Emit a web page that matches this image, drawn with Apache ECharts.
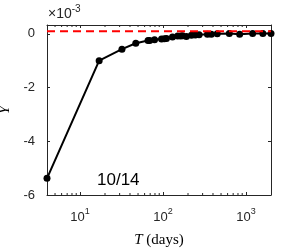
<!DOCTYPE html>
<html><head><meta charset="utf-8">
<script src="https://cdn.jsdelivr.net/npm/echarts@6/dist/echarts.min.js"></script>
<style>html,body{margin:0;padding:0;background:#fff}#c{width:300px;height:250px}</style>
</head><body><div id="c"></div>
<script>
// T in days, Y in units of 1e-3
const T_days = [4, 17, 32, 47, 66, 69, 79, 96, 104, 110, 130, 150, 163, 172, 191, 220, 245, 272, 343, 382, 450, 629, 838, 1202, 1595, 2000];
const Y_e3   = [-5.38, -1.00, -0.57, -0.35, -0.25, -0.25, -0.22, -0.19, -0.18, -0.17, -0.12, -0.075, -0.08, -0.07, -0.10, -0.05, -0.04, -0.03, -0.01, -0.01, 0.0, 0.01, -0.01, 0.01, 0.01, 0.01];
const refLevel = 0.1;
const xRange = [4, 2000];
const yRange = [-6, 0.33];
const yTicks = [-6, -4, -2, 0];
const xMinor = [5,6,7,8,9,20,30,40,50,60,70,80,90,200,300,400,500,600,700,800,900];
const annotation = '10/14';

const ink = '#262626';
const chart = echarts.init(document.getElementById('c'), null, {renderer:'canvas'});
const lineData = T_days.map((t,i)=>[t, Y_e3[i]]);
const axisBase = {
  type:'log', logBase:10, min:xRange[0], max:xRange[1],
  axisLine:{show:true, onZero:false, lineStyle:{color:ink, width:1}},
  axisTick:{show:true, inside:true, length:3, lineStyle:{color:ink}},
  splitLine:{show:false}, minorTick:{show:false}
};
chart.setOption({
  animation:false,
  grid:{left:47, right:29, top:25, bottom:55, containLabel:false, outerBoundsMode:'none'},
  xAxis:[
    Object.assign({}, axisBase, {
      position:'bottom',
      name:'{i|T} (days)', nameLocation:'middle', nameGap:38,
      nameTextStyle:{color:'#000', fontFamily:'Liberation Serif', fontSize:15,
        rich:{i:{fontStyle:'italic', fontFamily:'Liberation Serif', fontSize:15, color:'#000'}}},
      axisLabel:{show:true, margin:12, color:ink, showMinLabel:false, showMaxLabel:false,
        formatter:function(v){
          const e = Math.log10(v);
          if (Math.abs(e-Math.round(e))>1e-6) return '';
          return '{b|10}{s|'+Math.round(e)+'}';
        },
        rich:{b:{fontFamily:'Liberation Sans', fontSize:13, color:ink},
              s:{fontFamily:'Liberation Sans', fontSize:9, color:ink, padding:[0,0,12,0]}}}
    }),
    Object.assign({}, axisBase, {position:'top', axisLabel:{show:false}})
  ],
  yAxis:[
    {type:'value', min:yRange[0], max:yRange[1], interval:2, position:'left',
     name:'Y', nameLocation:'middle', nameGap:32, nameRotate:90,
     nameTextStyle:{fontFamily:'Liberation Serif', fontStyle:'italic', fontSize:15, color:'#000'},
     axisLine:{show:true, onZero:false, lineStyle:{color:ink, width:1}},
     axisTick:{show:true, inside:true, length:3, lineStyle:{color:ink}},
     splitLine:{show:false},
     axisLabel:{color:ink, fontFamily:'Liberation Sans', fontSize:13, margin:12, showMaxLabel:false,
       formatter:function(v){ return yTicks.some(t=>Math.abs(t-v)<1e-9) ? String(v) : ''; }}},
    {type:'value', min:yRange[0], max:yRange[1], interval:2, position:'right',
     axisLine:{show:true, onZero:false, lineStyle:{color:ink, width:1}},
     axisTick:{show:true, inside:true, length:3, lineStyle:{color:ink}},
     splitLine:{show:false}, axisLabel:{show:false}}
  ],
  series:[
    {type:'line', data:lineData, xAxisIndex:0, yAxisIndex:0,
     lineStyle:{color:'#000', width:2}, itemStyle:{color:'#000'},
     symbol:'circle', symbolSize:7, showSymbol:true, z:2},
    {type:'line', data:[[xRange[0],refLevel],[xRange[1],refLevel]], symbol:'none',
     lineStyle:{color:'#ff0000', width:2, type:[8,5]}, z:3},
    {type:'custom', z:1, silent:true,
     data:xMinor.map(v=>[v]),
     renderItem:function(params, api){
       const x = api.value(0);
       const b = api.coord([x, yRange[0]]);
       const t = api.coord([x, yRange[1]]);
       return {type:'group', children:[
         {type:'line', shape:{x1:b[0], y1:b[1], x2:b[0], y2:b[1]-2}, style:{stroke:ink, lineWidth:1}},
         {type:'line', shape:{x1:t[0], y1:t[1], x2:t[0], y2:t[1]+2}, style:{stroke:ink, lineWidth:1}}
       ]};
     }}
  ],
  graphic:[
    {type:'text', left:48, top:4, style:{rich:{b:{fontFamily:'Liberation Sans', fontSize:14, fill:ink}, s:{fontFamily:'Liberation Sans', fontSize:10, fill:ink, padding:[0,0,10,0]}}, text:'{b|×10}{s|-3}', fill:ink}},
    {type:'text', left:97, top:172, style:{text:annotation, fontFamily:'Liberation Sans', fontSize:17, fill:'#000'}}
  ]
});
</script></body></html>
